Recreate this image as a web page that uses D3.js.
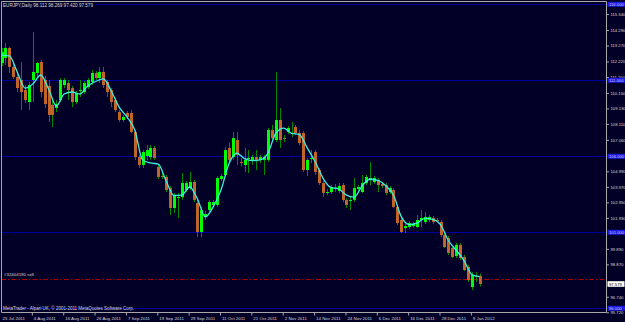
<!DOCTYPE html>
<html>
<head>
<meta charset="utf-8">
<script src="https://cdn.jsdelivr.net/npm/d3@7"></script>
<style>
  body { margin: 0; background: #030028; }
  svg { display: block; }
  text { font-family: "Liberation Sans", Arial, sans-serif; }
</style>
</head>
<body>
<div id="chart"></div>
<script>
// EURJPY daily bars, 25 Jul 2011 .. 11 Jan 2012, [open, high, low, close]
var candles = [
  [112.12, 113.11, 111.92, 112.84], [112.45, 113.43, 111.99, 113.11], [113.11, 113.17, 111.46, 111.86],
  [111.86, 112.18, 111.07, 111.20], [111.20, 111.46, 110.21, 110.47], [111.00, 112.18, 109.03, 110.21],
  [110.34, 110.67, 109.49, 109.68], [109.55, 110.87, 109.03, 110.67], [111.00, 114.16, 109.55, 111.53],
  [111.46, 112.18, 111.13, 112.12], [112.18, 112.32, 109.88, 110.21], [111.00, 111.26, 109.16, 109.42],
  [110.61, 111.00, 108.24, 108.70], [109.36, 109.82, 107.91, 108.70], [109.16, 109.68, 108.89, 109.42],
  [109.68, 111.13, 109.55, 111.00], [110.67, 111.13, 110.47, 111.00], [110.80, 111.00, 109.68, 110.34],
  [110.47, 110.61, 109.22, 109.55], [109.55, 110.28, 109.42, 110.15], [110.28, 111.00, 109.88, 110.34],
  [110.21, 110.93, 110.08, 110.80], [110.54, 111.13, 110.41, 111.00], [110.87, 111.66, 110.67, 111.46],
  [111.46, 111.59, 111.00, 111.13], [111.13, 111.86, 110.80, 111.53], [111.53, 111.86, 110.47, 110.67],
  [110.87, 111.00, 109.88, 110.21], [110.34, 110.47, 109.22, 109.55], [109.68, 109.82, 108.89, 109.03],
  [108.89, 109.03, 108.24, 108.37], [108.37, 108.70, 108.24, 108.57], [108.83, 108.96, 108.43, 108.57],
  [108.83, 109.03, 107.51, 107.58], [107.58, 107.71, 105.74, 105.93], [105.93, 106.07, 105.21, 105.41],
  [105.41, 106.39, 105.21, 106.26], [106.00, 106.72, 105.74, 106.39], [105.93, 106.72, 105.74, 106.53],
  [106.53, 106.66, 105.74, 105.87], [105.28, 105.41, 104.49, 104.62], [104.68, 104.95, 104.49, 104.66],
  [104.62, 104.75, 103.63, 103.76], [103.89, 104.03, 102.12, 102.58], [102.58, 103.57, 102.25, 103.43],
  [103.24, 103.57, 101.92, 103.30], [103.30, 104.88, 103.11, 104.22], [103.76, 104.36, 103.63, 104.22],
  [103.89, 104.95, 103.76, 104.29], [104.29, 104.42, 102.97, 103.11], [102.91, 103.11, 100.67, 101.00],
  [101.00, 102.65, 100.67, 102.45], [102.05, 102.38, 101.79, 102.18], [102.45, 103.11, 102.32, 102.97],
  [102.78, 103.11, 102.65, 102.97], [102.78, 104.68, 102.65, 104.55], [104.49, 104.82, 104.36, 104.68],
  [104.75, 106.59, 104.62, 106.39], [106.53, 106.86, 105.54, 105.74], [105.93, 107.58, 105.74, 107.18],
  [107.05, 107.58, 105.41, 106.07], [105.61, 105.87, 105.34, 105.54], [105.41, 106.53, 104.95, 105.74],
  [105.80, 106.39, 104.88, 105.87], [105.74, 106.07, 105.41, 105.93], [105.93, 106.39, 105.08, 105.74],
  [105.74, 106.07, 105.54, 105.93], [105.74, 106.07, 104.75, 105.93], [105.74, 107.84, 105.61, 107.71],
  [107.71, 108.04, 107.05, 107.18], [107.05, 111.53, 106.92, 108.37], [108.37, 109.16, 106.53, 107.05],
  [107.18, 107.38, 106.92, 107.12], [107.58, 107.97, 107.45, 107.84], [107.45, 108.24, 107.25, 107.51],
  [107.91, 108.04, 107.38, 107.51], [107.51, 107.71, 106.72, 106.86], [107.51, 107.64, 104.95, 105.08],
  [105.08, 105.87, 104.68, 105.74], [105.80, 106.39, 105.54, 105.87], [106.26, 106.39, 104.75, 104.95],
  [105.08, 105.21, 104.09, 104.22], [104.22, 104.36, 103.30, 103.57], [103.57, 103.83, 103.43, 103.63],
  [103.63, 104.09, 103.50, 103.96], [103.89, 104.16, 103.63, 103.91], [103.70, 104.22, 103.57, 104.03],
  [104.09, 104.22, 102.97, 103.11], [103.11, 103.24, 102.58, 102.78], [103.04, 103.30, 102.45, 103.11],
  [103.11, 104.55, 102.97, 103.89], [103.83, 104.09, 103.70, 103.96], [103.63, 104.75, 103.57, 104.22],
  [104.22, 104.75, 104.09, 104.62], [104.49, 105.61, 104.09, 104.55], [104.29, 104.68, 104.16, 104.55],
  [104.42, 104.55, 103.63, 104.09], [104.16, 104.29, 103.89, 104.03], [104.09, 104.22, 103.43, 103.57],
  [103.63, 104.03, 103.50, 103.89], [103.76, 103.89, 102.58, 102.65], [102.65, 102.78, 101.46, 101.59],
  [101.79, 101.92, 100.93, 101.00], [101.26, 101.53, 100.93, 101.39], [101.33, 101.72, 101.20, 101.59],
  [101.39, 101.66, 101.26, 101.53], [101.33, 102.12, 101.26, 101.79], [101.79, 102.45, 101.33, 101.92],
  [101.66, 102.32, 101.53, 101.99], [101.79, 102.12, 101.66, 101.99], [101.92, 102.05, 101.53, 101.66],
  [101.79, 101.92, 101.66, 101.77], [101.66, 101.79, 100.67, 100.80], [100.80, 100.93, 99.95, 100.01],
  [100.61, 100.74, 99.49, 99.62], [99.95, 100.08, 99.29, 99.36], [99.42, 100.28, 99.29, 100.15],
  [100.15, 100.28, 99.16, 99.29], [99.36, 99.49, 98.43, 98.50], [98.70, 98.83, 97.71, 97.84],
  [97.38, 98.37, 97.18, 98.17], [98.11, 98.37, 97.71, 98.04], [98.112, 98.269, 97.420, 97.579]
];

// moving average line, read at every second bar
var maValues = [
  112.64, 112.58, 111.53, 110.47, 110.74, 111.33, 110.41, 109.29, 110.08, 110.21,
  110.08, 110.61, 110.90, 111.07, 110.28, 109.22, 108.57, 107.71, 105.74, 105.54,
  105.47, 104.36, 103.40, 103.43, 103.96, 103.17, 101.99, 102.65, 103.76, 105.47,
  106.18, 105.83, 105.70, 105.74, 106.20, 107.51, 107.84, 107.49, 107.41, 106.53,
  105.64, 104.55, 103.93, 103.83, 103.43, 103.30, 104.03, 104.47, 104.39, 104.06,
  103.43, 102.01, 101.49, 101.59, 101.89, 101.83, 101.49, 100.44, 99.81, 99.12,
  98.20, 98.06
];

var dateLabels = ["25 Jul 2011", "4 Aug 2011", "16 Aug 2011", "26 Aug 2011", "7 Sep 2011",
  "19 Sep 2011", "29 Sep 2011", "11 Oct 2011", "21 Oct 2011", "2 Nov 2011", "14 Nov 2011",
  "24 Nov 2011", "6 Dec 2011", "16 Dec 2011", "28 Dec 2011", "9 Jan 2012"];
var dateLabelBars = [0, 8, 16, 24, 32, 40, 48, 56, 64, 72, 80, 88, 96, 104, 112, 120];

// visible price scale labels (the ones under the level boxes are hidden on the original)
var priceTicks = [115.340, 114.290, 113.270, 112.220, 111.200, 110.150, 109.130, 108.110,
  107.060, 104.990, 103.970, 102.950, 101.930, 99.890, 98.870, 96.740, 95.720];
var levelLines = [116, 111, 106, 101, 96];

var orderPrice = 97.93;
var orderLabel = "#32404190 sell";
var bidPrice = 97.579;
var title = "EURJPY,Daily  98.112 98.269 97.420 97.579";
var footer = "MetaTrader - Alpari UK, \u00a9 2001-2011 MetaQuotes Software Corp.";

var width = 625, height = 322;
var plotRight = 606.5, plotBottom = 312.5;
var bg = "#030028";

var svg = d3.select("#chart").append("svg")
    .attr("width", width)
    .attr("height", height);

svg.append("rect")
    .attr("width", width)
    .attr("height", height)
    .attr("fill", bg);

var x = d3.scaleLinear().domain([0, candles.length - 1]).range([1.5, 479.7]);
var y = d3.scaleLinear().domain([116, 96]).range([4, 308]);

var fmt = d3.format(".3f");

// level lines
svg.append("g").selectAll("line")
    .data(levelLines)
  .enter().append("line")
    .attr("x1", 1).attr("x2", plotRight)
    .attr("y1", function(d) { return Math.round(y(d)) + 0.5; })
    .attr("y2", function(d) { return Math.round(y(d)) + 0.5; })
    .attr("stroke", "#0000a0")
    .attr("stroke-width", 1);

// order line
svg.append("line")
    .attr("x1", 1).attr("x2", plotRight)
    .attr("y1", Math.round(y(orderPrice)) + 0.5)
    .attr("y2", Math.round(y(orderPrice)) + 0.5)
    .attr("stroke", "#b00000")
    .attr("stroke-width", 1)
    .attr("stroke-dasharray", "5,2,1.5,2");

svg.append("text")
    .attr("x", 4)
    .attr("y", y(orderPrice) - 2.5)
    .attr("font-size", "4.4px")
    .attr("fill", "#d8d8d8")
    .text(orderLabel);

// candles
var bars = svg.append("g");

bars.selectAll(".wick")
    .data(candles)
  .enter().append("line")
    .attr("class", "wick")
    .attr("x1", function(d, i) { return Math.round(x(i)) + 0.5; })
    .attr("x2", function(d, i) { return Math.round(x(i)) + 0.5; })
    .attr("y1", function(d) { return y(d[1]); })
    .attr("y2", function(d) { return y(d[2]); })
    .attr("stroke", "#008a00")
    .attr("stroke-width", 1);

bars.selectAll(".body")
    .data(candles)
  .enter().append("rect")
    .attr("class", "body")
    .attr("x", function(d, i) { return Math.round(x(i)) - 1; })
    .attr("width", 3)
    .attr("y", function(d) { return y(Math.max(d[0], d[3])); })
    .attr("height", function(d) { return Math.max(1, Math.abs(y(d[0]) - y(d[3]))); })
    .attr("fill", function(d) { return d[3] >= d[0] ? "#00ff00" : "#c0642a"; });

// moving average
var maLine = d3.line()
    .x(function(d, k) { return x(k * 2); })
    .y(function(d) { return y(d); })
    .curve(d3.curveMonotoneX);

svg.append("path")
    .datum(maValues)
    .attr("d", maLine)
    .attr("fill", "none")
    .attr("stroke", "#3cf0e0")
    .attr("stroke-width", 1.3);

// frame
svg.append("path")
    .attr("d", "M1.5," + plotBottom + "V1.5H" + plotRight + "V" + plotBottom + "H1.5")
    .attr("fill", "none")
    .attr("stroke", "#a8a8a8")
    .attr("stroke-width", 1);

// price axis
var yAxis = svg.append("g")
    .attr("transform", "translate(" + plotRight + ",0)")
    .call(d3.axisRight(y).tickValues(priceTicks).tickFormat(fmt).tickSize(2.5).tickPadding(1.5));
yAxis.select(".domain").remove();
yAxis.selectAll("line").attr("stroke", "#a8a8a8");
yAxis.selectAll("text")
    .attr("fill", "#d8d8d8")
    .attr("font-size", "4.2px")
    .attr("font-family", "Liberation Sans, Arial, sans-serif");

// level labels
var lv = svg.append("g").selectAll("g")
    .data(levelLines)
  .enter().append("g")
    .attr("transform", function(d) { return "translate(" + (plotRight + 1) + "," + Math.round(y(d)) + ")"; });
lv.append("rect")
    .attr("x", 0).attr("y", -2.2)
    .attr("width", 18).attr("height", 5)
    .attr("fill", "#1c1ce0");
lv.append("text")
    .attr("x", 1.5).attr("y", 2)
    .attr("font-size", "4.2px")
    .attr("fill", "#c8c8ff")
    .text(function(d) { return fmt(d); });

// bid label
var bid = svg.append("g")
    .attr("transform", "translate(" + (plotRight + 1) + "," + y(bidPrice) + ")");
bid.append("rect")
    .attr("x", 0).attr("y", -2.8)
    .attr("width", 17).attr("height", 5.6)
    .attr("fill", "#ffffff");
bid.append("text")
    .attr("x", 1.5).attr("y", 1.6)
    .attr("font-size", "4.2px")
    .attr("fill", "#000000")
    .text(fmt(bidPrice));

// date axis
var xAxis = svg.append("g")
    .attr("transform", "translate(-1," + plotBottom + ")")
    .call(d3.axisBottom(x).tickValues(dateLabelBars)
      .tickFormat(function(d, i) { return dateLabels[i]; })
      .tickSize(3).tickPadding(1.5));
xAxis.select(".domain").remove();
xAxis.selectAll("line")
    .attr("stroke", "#a8a8a8")
    .attr("opacity", function(d, i) { return i === 0 ? 0 : 1; });
xAxis.selectAll("text")
    .attr("text-anchor", "start")
    .attr("dx", "1.5px")
    .attr("fill", "#d8d8d8")
    .attr("font-size", "4.4px")
    .attr("font-family", "Liberation Sans, Arial, sans-serif");

// title and footer
svg.append("rect")
    .attr("x", 2).attr("y", 2)
    .attr("width", 94).attr("height", 5.5)
    .attr("fill", bg);
svg.append("text")
    .attr("x", 3).attr("y", 6.8)
    .attr("font-size", "4.6px")
    .attr("fill", "#d8d8d8")
    .text(title);

svg.append("text")
    .attr("x", 3).attr("y", 309.8)
    .attr("font-size", "4.5px")
    .attr("fill", "#d8d8d8")
    .text(footer);
</script>
</body>
</html>
